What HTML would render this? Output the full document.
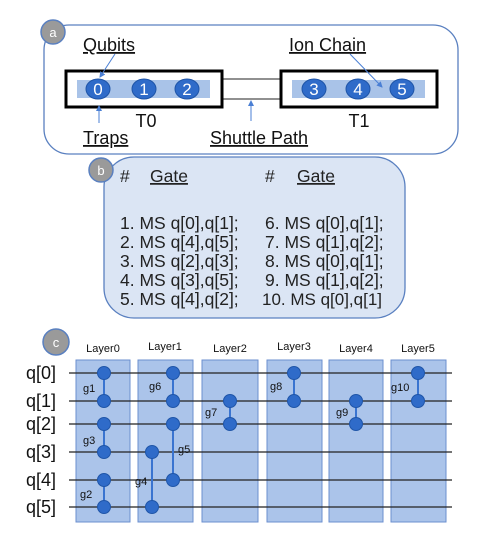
<!DOCTYPE html>
<html><head><meta charset="utf-8"><style>
body{margin:0;background:#fff;}
svg text{font-family:"Liberation Sans",sans-serif;}
</style></head><body>
<svg width="480" height="542" viewBox="0 0 480 542" xmlns="http://www.w3.org/2000/svg">
<defs><marker id="ar" markerWidth="6" markerHeight="6" refX="5" refY="3" orient="auto"><path d="M0,0 L6,3 L0,6z" fill="#4a7fd4"/></marker></defs>
<rect x="44" y="25" width="414" height="129" rx="25" fill="#fff" stroke="#5a80c0" stroke-width="1.3"/>
<circle cx="53" cy="32" r="12" fill="#9a9a9a" stroke="#5a80c0" stroke-width="1.5"/>
<text x="53" y="37" font-size="13" fill="#fff" text-anchor="middle">a</text>
<line x1="222" y1="79" x2="280" y2="79" stroke="#222" stroke-width="1"/>
<line x1="222" y1="99" x2="280" y2="99" stroke="#222" stroke-width="1"/>
<rect x="66" y="71" width="156" height="36" fill="#fff" stroke="#000" stroke-width="3"/>
<rect x="281" y="71" width="156" height="36" fill="#fff" stroke="#000" stroke-width="3"/>
<rect x="77" y="80" width="133" height="18" fill="#a9c3e8"/>
<rect x="292" y="80" width="133" height="18" fill="#a9c3e8"/>
<g fill="#2f6bc9" stroke="#1f55a8" stroke-width="1">
<ellipse cx="98" cy="89" rx="12" ry="10"/><ellipse cx="144" cy="89" rx="12" ry="10"/><ellipse cx="187" cy="89" rx="12" ry="10"/>
<ellipse cx="314" cy="89" rx="12" ry="10"/><ellipse cx="358" cy="89" rx="12" ry="10"/><ellipse cx="402" cy="89" rx="12" ry="10"/></g>
<g fill="#fff" font-size="17" text-anchor="middle">
<text x="98" y="95">0</text><text x="144" y="95">1</text><text x="187" y="95">2</text>
<text x="314" y="95">3</text><text x="358" y="95">4</text><text x="402" y="95">5</text></g>
<g stroke="#4a7fd4" stroke-width="1" fill="none">
<line x1="115" y1="54" x2="100" y2="77" marker-end="url(#ar)"/>
<line x1="99" y1="123" x2="99" y2="106" marker-end="url(#ar)"/>
<line x1="251" y1="121" x2="251" y2="101" marker-end="url(#ar)"/>
<line x1="350" y1="54" x2="382" y2="87" marker-end="url(#ar)"/>
</g>
<g font-size="18" fill="#111" text-decoration="underline">
<text x="83" y="51">Qubits</text><text x="289" y="51">Ion Chain</text>
<text x="83" y="144">Traps</text><text x="210" y="144">Shuttle Path</text></g>
<g font-size="18" fill="#111" text-anchor="middle"><text x="146" y="127">T0</text><text x="359" y="127">T1</text></g>
<rect x="104" y="157" width="301" height="161" rx="30" fill="#dbe5f4" stroke="#5a80c0" stroke-width="1.3"/>
<circle cx="101" cy="170" r="12" fill="#9a9a9a" stroke="#5a80c0" stroke-width="1.5"/>
<text x="101" y="175" font-size="13" fill="#fff" text-anchor="middle">b</text>
<g font-size="17.5" fill="#222">
<text x="120" y="182">#</text><text x="150" y="182" text-decoration="underline">Gate</text>
<text x="265" y="182">#</text><text x="297" y="182" text-decoration="underline">Gate</text>
<text x="120" y="229">1. MS q[0],q[1];</text><text x="120" y="248">2. MS q[4],q[5];</text><text x="120" y="267">3. MS q[2],q[3];</text><text x="120" y="286">4. MS q[3],q[5];</text><text x="120" y="305">5. MS q[4],q[2];</text>
<text x="265" y="229">6. MS q[0],q[1];</text><text x="265" y="248">7. MS q[1],q[2];</text><text x="265" y="267">8. MS q[0],q[1];</text><text x="265" y="286">9. MS q[1],q[2];</text><text x="262" y="305" font-size="17">10. MS q[0],q[1]</text>
</g>
<circle cx="56" cy="342" r="13" fill="#9a9a9a" stroke="#5a80c0" stroke-width="1.5"/>
<text x="56" y="347" font-size="13" fill="#fff" text-anchor="middle">c</text>
<g fill="#abc4ea" stroke="#6b8fcf" stroke-width="1">
<rect x="76" y="360" width="54" height="162"/><rect x="138" y="360" width="55" height="162"/><rect x="202" y="360" width="56" height="162"/>
<rect x="267" y="360" width="55" height="162"/><rect x="329" y="360" width="54" height="162"/><rect x="391" y="360" width="55" height="162"/></g>
<g font-size="11" fill="#111" text-anchor="middle">
<text x="103" y="352">Layer0</text><text x="165" y="350">Layer1</text><text x="230" y="352">Layer2</text><text x="294" y="350">Layer3</text><text x="356" y="352">Layer4</text><text x="418" y="352">Layer5</text></g>
<g stroke="#222" stroke-width="1.2">
<line x1="69" y1="373" x2="452" y2="373"/><line x1="69" y1="401" x2="452" y2="401"/><line x1="69" y1="424" x2="452" y2="424"/>
<line x1="69" y1="452" x2="452" y2="452"/><line x1="69" y1="480" x2="452" y2="480"/><line x1="69" y1="507" x2="452" y2="507"/></g>
<g font-size="18" fill="#111">
<text x="26" y="379">q[0]</text><text x="26" y="407">q[1]</text><text x="26" y="430">q[2]</text><text x="26" y="458">q[3]</text><text x="26" y="486">q[4]</text><text x="26" y="513">q[5]</text></g>
<g stroke="#3a74d0" stroke-width="2">
<line x1="104" y1="373" x2="104" y2="401"/><line x1="104" y1="424" x2="104" y2="452"/><line x1="104" y1="480" x2="104" y2="507"/>
<line x1="173" y1="373" x2="173" y2="401"/><line x1="173" y1="424" x2="173" y2="480"/><line x1="152" y1="452" x2="152" y2="507"/>
<line x1="230" y1="401" x2="230" y2="424"/><line x1="294" y1="373" x2="294" y2="401"/><line x1="356" y1="401" x2="356" y2="424"/><line x1="418" y1="373" x2="418" y2="401"/></g>
<g fill="#2f6bc9" stroke="#1f55a8" stroke-width="1">
<circle cx="104" cy="373" r="6.5"/><circle cx="104" cy="401" r="6.5"/><circle cx="104" cy="424" r="6.5"/><circle cx="104" cy="452" r="6.5"/><circle cx="104" cy="480" r="6.5"/><circle cx="104" cy="507" r="6.5"/>
<circle cx="173" cy="373" r="6.5"/><circle cx="173" cy="401" r="6.5"/><circle cx="173" cy="424" r="6.5"/><circle cx="173" cy="480" r="6.5"/><circle cx="152" cy="452" r="6.5"/><circle cx="152" cy="507" r="6.5"/>
<circle cx="230" cy="401" r="6.5"/><circle cx="230" cy="424" r="6.5"/><circle cx="294" cy="373" r="6.5"/><circle cx="294" cy="401" r="6.5"/>
<circle cx="356" cy="401" r="6.5"/><circle cx="356" cy="424" r="6.5"/><circle cx="418" cy="373" r="6.5"/><circle cx="418" cy="401" r="6.5"/></g>
<g font-size="11" fill="#111">
<text x="83" y="392">g1</text><text x="83" y="444">g3</text><text x="80" y="498">g2</text>
<text x="149" y="390">g6</text><text x="178" y="453">g5</text><text x="135" y="485">g4</text>
<text x="205" y="416">g7</text><text x="270" y="390">g8</text><text x="336" y="416">g9</text><text x="391" y="391">g10</text></g>
</svg>
</body></html>
